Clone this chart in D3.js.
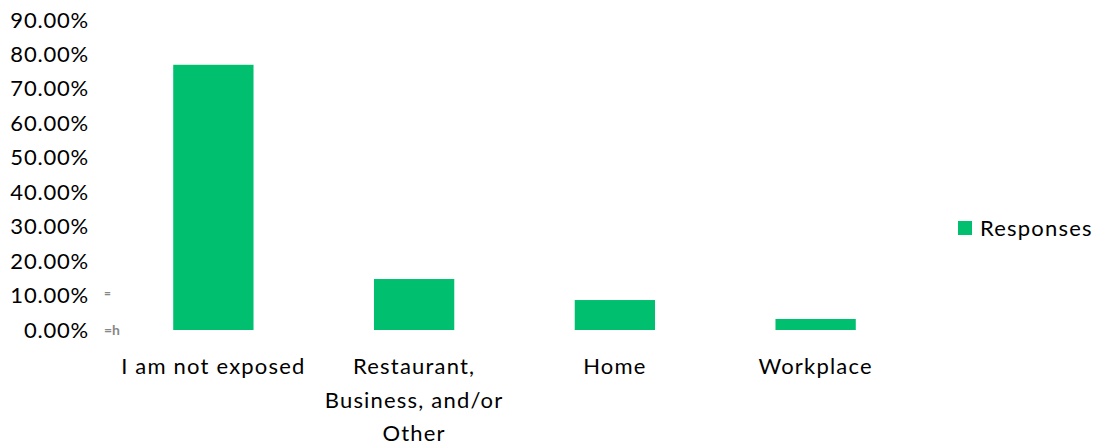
<!DOCTYPE html>
<html>
<head>
<meta charset="utf-8">
<script src="https://cdn.jsdelivr.net/npm/d3@7"></script>
<style>
  body { margin: 0; background: #fff; }
  text { font-family: Lato, "Open Sans", sans-serif; fill: #000; }
</style>
</head>
<body>
<div id="chart"></div>
<script>
// data
const categories = ['I am not exposed', 'Restaurant, Business, and/or Other', 'Home', 'Workplace'];
const categoryLines = [['I am not exposed'], ['Restaurant,', 'Business, and/or', 'Other'], ['Home'], ['Workplace']];
const responses = [0.77, 0.148, 0.087, 0.032];
const yTicks = [0, 0.1, 0.2, 0.3, 0.4, 0.5, 0.6, 0.7, 0.8, 0.9];
const seriesName = 'Responses';

const width = 1100, height = 446;
const barColor = '#00c070';
const fontSize = '22px';

const svg = d3.select('#chart').append('svg')
  .attr('width', width).attr('height', height);

const x = d3.scaleBand()
  .domain(categories)
  .range([113, 916]);

const y = d3.scaleLinear()
  .domain([0, 0.9])
  .range([330, 20]);

// y axis labels, no line
const fmt = d3.format('.2%');
const yAxis = d3.axisLeft(y).tickValues(yTicks).tickFormat(fmt).tickSize(0).tickPadding(0);
const yg = svg.append('g').attr('transform', 'translate(89,0)').call(yAxis);
yg.select('.domain').remove();
yg.selectAll('text')
  .style('font-family', 'Lato, "Open Sans", sans-serif')
  .style('font-size', fontSize).style('letter-spacing', '0.8px').attr('fill', '#000');

// bars
const barW = x.bandwidth() * 0.4;
svg.selectAll('.bar').data(responses).join('rect')
  .attr('class', 'bar')
  .attr('x', (d, i) => x(categories[i]) + (x.bandwidth() - barW) / 2)
  .attr('y', d => y(d))
  .attr('width', barW)
  .attr('height', d => y(0) - y(d))
  .attr('fill', barColor);

// category labels
const lab = svg.selectAll('.cat').data(categoryLines).join('text')
  .attr('class', 'cat')
  .attr('text-anchor', 'middle')
  .style('font-size', fontSize)
  .style('letter-spacing', '1.2px')
  .attr('x', (d, i) => x(categories[i]) + x.bandwidth() / 2)
  .attr('y', 374);
lab.selectAll('tspan').data(d => d).join('tspan')
  .attr('x', function () { return d3.select(this.parentNode).attr('x'); })
  .attr('dy', (d, i) => i === 0 ? 0 : 33.5)
  .text(d => d);

// small grey marks near the axis
svg.append('text').attr('x', 104).attr('y', 297).style('font-size', '12px')
  .style('font-weight', 'bold').style('fill', '#888').text('=');
svg.append('text').attr('x', 104).attr('y', 335).style('font-size', '14px')
  .style('font-weight', 'bold').style('fill', '#888').text('=h');

// legend
const lg = svg.append('g').attr('transform', 'translate(958,221)');
lg.append('rect').attr('width', 14).attr('height', 14).attr('fill', barColor);
lg.append('text').attr('x', 22).attr('y', 15).style('font-size', fontSize)
  .style('letter-spacing', '1.2px').text(seriesName);
</script>
</body>
</html>
